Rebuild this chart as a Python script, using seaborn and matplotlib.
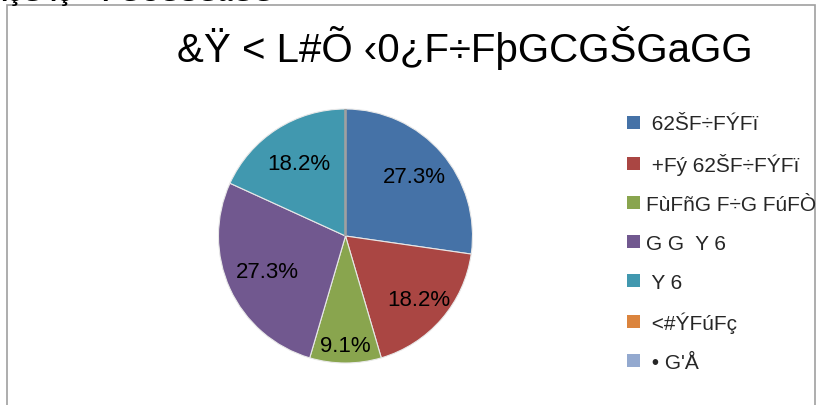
import numpy as np
import matplotlib
matplotlib.use("Agg")
import matplotlib.pyplot as plt
import matplotlib.patches as mpatches
import seaborn as sns

sns.set_theme(style="white")
plt.rcParams['font.family'] = ['Liberation Sans', 'DejaVu Sans']

# data
title = "&Ÿ < L#Õ ‹0¿F÷FþGCGŠGaGG"
top_text = "ïçG ïç  +ÞGCGŠGaGG"
categories = [" 62ŠF÷FÝFï", " +Fý 62ŠF÷FÝFï", "FùFñG F÷G FúFÒ",
              "G G  Y 6", " Y 6", " <#ÝFúFç", " • G'Å"]
counts = [3, 2, 1, 3, 2, 0, 0]
colors = ["#4572A7", "#AA4643", "#89A54E", "#71588F", "#4198AF",
          "#DB843D", "#93A9CF"]

# radial distance of each percentage label (fraction of radius)
label_dist = [0.72, 0.76, 0.86, 0.68, 0.68, 0.7, 0.7]

W, H = 827, 406
fig = plt.figure(figsize=(W / 100, H / 100), dpi=100)

# outer frame of the chart area
frame = mpatches.Rectangle((7 / W, -0.05), 808 / W, (H - 6) / H + 0.05,
                           transform=fig.transFigure, fill=False,
                           edgecolor="#A0A0A0", linewidth=1.2)
fig.patches.append(frame)

# cropped text at the very top
fig.text(0 / W, 1 - 0.5 / H, top_text, fontsize=19, fontweight="bold",
         ha="left", va="baseline", color="black")

fig.text(465 / W, 1 - 48 / H, title, fontsize=29, ha="center",
         va="center", color="black")

cx, cy, r = 345.5, 237, 127
ax = fig.add_axes([(cx - r) / W, (H - cy - r) / H, 2 * r / W, 2 * r / H])


def fmt(p):
    return f"{p:.1f}%" if p > 0 else ""


wedges, texts, autotexts = ax.pie(
    counts, colors=colors, startangle=90, counterclock=False,
    autopct=fmt, radius=1,
    wedgeprops=dict(edgecolor="#E8E8E8", linewidth=0.8),
    textprops=dict(fontsize=16, color="black"))
for w, t, c, d in zip(wedges, autotexts, counts, label_dist):
    theta = np.deg2rad((w.theta1 + w.theta2) / 2)
    t.set_position((d * np.cos(theta), d * np.sin(theta)))
    if c == 0:
        w.set_edgecolor("#A0A0A0")
        w.set_linewidth(1.5)
ax.set_xlim(-1, 1)
ax.set_ylim(-1, 1)
ax.set_aspect("equal")
ax.axis("off")

handles = [mpatches.Patch(facecolor=c, edgecolor="none") for c in colors]
fig.legend(handles, categories, loc="upper left",
           bbox_to_anchor=(617 / W, 1 - 105 / H), frameon=False,
           fontsize=15, handlelength=0.58, handleheight=0.58,
           handletextpad=0.31, labelspacing=0.95, borderpad=0)

fig.savefig("out.png", dpi=100, facecolor="white")
